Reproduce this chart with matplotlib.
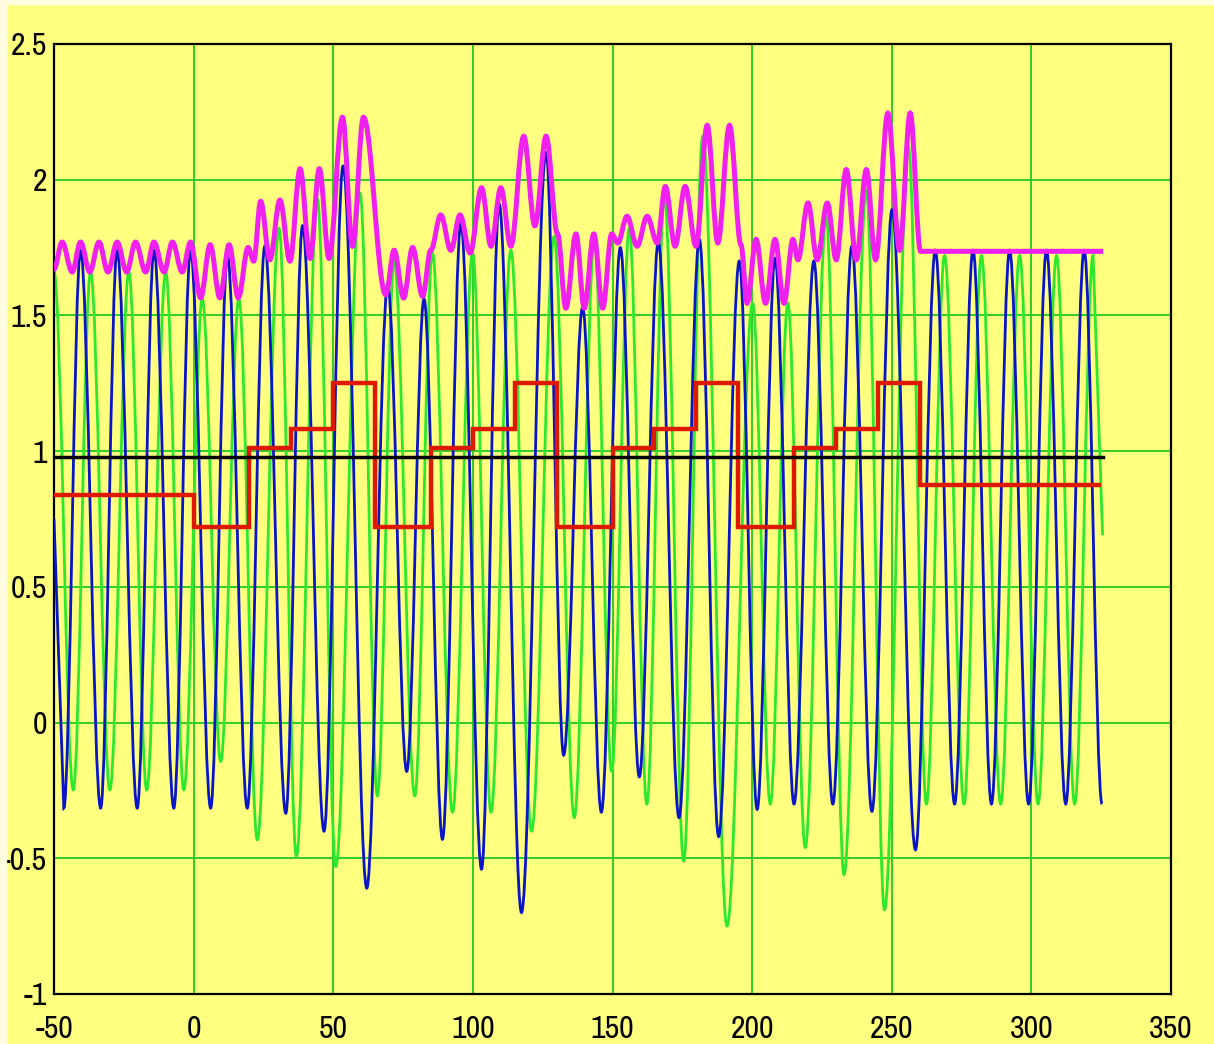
import matplotlib
matplotlib.use("Agg")
import matplotlib.pyplot as plt
from matplotlib import font_manager as fm
from matplotlib.path import Path
from matplotlib.patches import PathPatch, Rectangle

# turning points (x, value)
blue_x = [-50, -46.5, -40.5, -33.3, -27.4, -20.2, -14.2, -7.1, -1.1, 6.1, 12.1, 19.2, 25.5,
          33.0, 39.0, 46.7, 53.5, 62.0, 69.5, 76.3, 82.5, 89.1, 95.7, 103.1, 109.4, 117.4,
          126.2, 132.5, 139.3, 146.0, 152.8, 159.6, 166.4, 173.8, 181.1, 188.0, 195.4, 201.8,
          208.2, 215.0, 222.1, 228.9, 235.7, 242.9, 250.1, 258.5, 265.6, 272.5, 279.1, 285.7,
          292.2, 299.0, 305.4, 312.3, 318.9, 325.3]
blue_y = [0.75, -0.315, 1.74, -0.315, 1.74, -0.315, 1.74, -0.315, 1.74, -0.315, 1.72, -0.315, 1.755,
          -0.334, 1.83, -0.40, 2.05, -0.61, 1.61, -0.18, 1.56, -0.43, 1.84, -0.54, 1.91, -0.70,
          2.10, -0.12, 1.53, -0.33, 1.75, -0.20, 1.77, -0.35, 1.78, -0.42, 1.70, -0.32,
          1.71, -0.30, 1.70, -0.30, 1.755, -0.327, 1.89, -0.469, 1.74, -0.30, 1.74, -0.30,
          1.74, -0.30, 1.74, -0.30, 1.74, -0.30]

green_x = [-50, -43.1, -36.9, -30.0, -23.2, -16.8, -10.0, -3.5, 3.1, 9.7, 16.2, 22.8, 30.6,
           36.8, 44.3, 50.9, 59.6, 65.8, 71.8, 79.2, 85.5, 92.7, 99.9, 106.5, 113.6, 121.0,
           129.1, 136.3, 143.5, 149.7, 156.0, 162.3, 168.6, 175.5, 182.3, 191.0, 200.2, 206.5,
           212.8, 219.0, 226.5, 232.9, 240.9, 247.4, 256.0, 262.4, 268.9, 275.9, 282.1, 289.0,
           295.8, 302.4, 309.0, 315.5, 322.1, 325.5]
green_y = [1.66, -0.248, 1.66, -0.248, 1.66, -0.248, 1.66, -0.248, 1.56, -0.143, 1.56, -0.432, 1.82,
           -0.493, 1.93, -0.53, 1.95, -0.27, 1.70, -0.27, 1.73, -0.33, 1.73, -0.33, 1.74, -0.40,
           1.79, -0.35, 1.77, -0.18, 1.82, -0.30, 1.94, -0.51, 2.16, -0.75, 1.545, -0.30,
           1.545, -0.46, 1.865, -0.56, 1.96, -0.69, 2.12, -0.30, 1.72, -0.30, 1.72, -0.30,
           1.72, -0.30, 1.72, -0.30, 1.72, 0.69]

env_x = [-50, -47.1, -43.5, -40.5, -37.2, -33.9, -30.7, -27.4, -24.0, -20.8, -17.2, -14.2, -10.6,
         -7.6, -4.1, -1.1, 2.5, 5.9, 9.4, 12.7, 16.0, 19.5, 21.5, 24.0, 27.3, 30.9, 34.5, 38.1,
         41.7, 45.0, 48.5, 53.3, 56.9, 60.8, 68.8, 71.8, 75.2, 78.4, 82.0, 84.9, 88.5, 92.1,
         95.4, 99.0, 103.1, 106.5, 110.0, 113.6, 118.2, 122.2, 126.2, 130.3, 133.3, 136.9,
         139.9, 143.3, 146.5, 149.7, 151.9, 155.2, 158.8, 162.4, 166.0, 168.9, 172.4, 176.0,
         179.9, 183.9, 187.7, 191.9, 196.0, 198.2, 201.4, 204.8, 208.2, 211.4, 214.6, 216.4,
         220.0, 223.3, 226.9, 230.1, 233.7, 237.3, 240.9, 244.2, 248.6, 252.8, 256.6, 260.3, 325.7]
env_y = [1.67, 1.77, 1.66, 1.77, 1.66, 1.77, 1.66, 1.77, 1.66, 1.77, 1.66, 1.77, 1.66,
         1.77, 1.66, 1.77, 1.565, 1.76, 1.565, 1.76, 1.565, 1.75, 1.70, 1.92, 1.705, 1.925, 1.70, 2.04,
         1.71, 2.04, 1.71, 2.23, 1.755, 2.23, 1.576, 1.74, 1.564, 1.75, 1.57, 1.74, 1.87, 1.74,
         1.87, 1.73, 1.97, 1.755, 1.97, 1.755, 2.16, 1.83, 2.16, 1.80, 1.527, 1.80,
         1.527, 1.80, 1.527, 1.80, 1.767, 1.865, 1.755, 1.865, 1.767, 1.975, 1.755, 1.975,
         1.755, 2.20, 1.767, 2.20, 1.76, 1.545, 1.78, 1.545, 1.78, 1.545, 1.78, 1.705,
         1.914, 1.705, 1.914, 1.705, 2.037, 1.705, 2.037, 1.705, 2.245, 1.74, 2.245, 1.736, 1.736]

step_edges = [-50, 0, 20, 35, 50, 65, 85, 100, 115, 130, 150, 165, 180, 195, 215, 230, 245, 260, 325]
step_vals = [0.84, 0.72, 1.01, 1.08, 1.25, 0.72, 1.01, 1.08, 1.25, 0.72, 1.01, 1.08, 1.25,
             0.72, 1.01, 1.08, 1.25, 0.875]
level = 0.98
level_span = [-50, 325.5]

ytick_vals = [-1, -0.5, 0, 0.5, 1, 1.5, 2, 2.5]
ytick_text = ['-1', '-0.5', '0', '0.5', '1', '1.5', '2', '2.5']


def wave(xs, ys, line_start=False, line_end=False, k=0.3634):
    # smooth curve through turning points, flat tangent at each one
    verts = [(xs[0], ys[0])]
    codes = [Path.MOVETO]
    n = len(xs) - 1
    for i in range(n):
        x0, y0, x1, y1 = xs[i], ys[i], xs[i + 1], ys[i + 1]
        if (i == 0 and line_start) or (i == n - 1 and line_end):
            verts.append((x1, y1))
            codes.append(Path.LINETO)
            continue
        d = (x1 - x0) * k
        verts += [(x0 + d, y0), (x1 - d, y1), (x1, y1)]
        codes += [Path.CURVE4] * 3
    return Path(verts, codes)


def narrow_font():
    # the tick labels in the picture use a tall narrow face
    fonts = [f for f in fm.fontManager.ttflist if f.style == 'normal']
    for f in fonts:
        if ('Narrow' in f.name or 'Condensed' in f.name) and 'Mono' not in f.name:
            return f.name, 'normal', 23
    for f in fonts:
        if f.stretch in ('condensed', 'semi-condensed', 'extra-condensed') and 'Mono' not in f.name \
                and f.weight in (400, 'normal', 'regular', 'book'):
            return f.name, f.stretch, 23
    return 'Liberation Sans', 'normal', 18


plt.rcParams['axes.unicode_minus'] = False
bg = '#ffff80'
fig = plt.figure(figsize=(12.14, 10.44), dpi=100, facecolor=bg)
# thin pale border seen at the top and left of the screenshot
fig.patches.append(Rectangle((0, 0), 0.005, 1, transform=fig.transFigure, color='#fffde0', zorder=0))
fig.patches.append(Rectangle((0, 0.996), 1, 0.004, transform=fig.transFigure, color='#fffde0', zorder=0))

ax = fig.add_axes([0.0445, 0.0479, 0.9201, 0.9100])
ax.set_facecolor(bg)

ax.add_patch(PathPatch(wave(green_x, green_y, line_end=True), fill=False,
                       edgecolor='#2ee82e', lw=2.0, zorder=2))
ax.add_patch(PathPatch(wave(blue_x, blue_y, line_start=True), fill=False,
                       edgecolor='#0a14c8', lw=2.0, zorder=3))
ax.stairs(step_vals, step_edges, baseline=None, color='#dd1a00', lw=3.2, zorder=4)
ax.plot(level_span, [level, level], color='black', lw=2.5, zorder=5)
ax.add_patch(PathPatch(wave(env_x, env_y), fill=False,
                       edgecolor='#f020f0', lw=3.6, zorder=6))

ax.set_xlim(-50, 350)
ax.set_ylim(-1, 2.5)
ax.set_xticks(range(-50, 351, 50))
ax.set_yticks(ytick_vals)
ax.set_yticklabels(ytick_text)
ax.grid(True, color='#22c822', lw=1.3)
ax.set_axisbelow(True)

fam, stretch, size = narrow_font()
ax.tick_params(length=0, labelsize=size)
ax.tick_params(axis='x', pad=15)
ax.tick_params(axis='y', pad=5)
for lab in ax.get_xticklabels() + ax.get_yticklabels():
    lab.set_family([fam, 'DejaVu Sans'])
    lab.set_fontstretch(stretch)
for sp in ax.spines.values():
    sp.set_color('black')
    sp.set_linewidth(1.6)

fig.savefig('out.png', dpi=100, facecolor=bg)
